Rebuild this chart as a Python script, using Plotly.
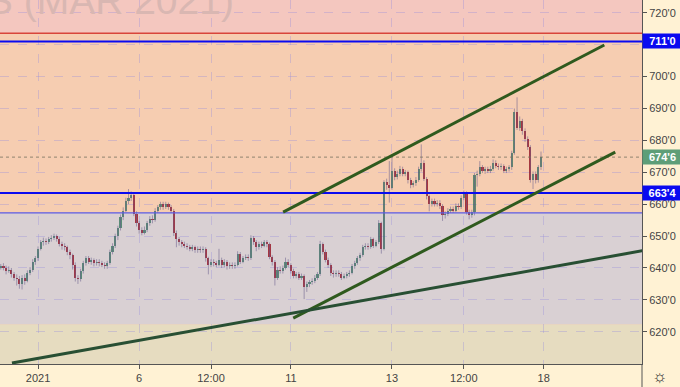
import plotly.graph_objects as go

# ---------------- data (hourly bars, Dec 31 2020 -> Jan 15 2021) ----------------
opens = [640, 640.5, 640, 639, 639.5, 638, 637, 636.5, 635, 637,
         636, 638.5, 639.5, 642, 643, 646, 648, 648.5, 648, 649,
         649.5, 650, 649, 647.5, 647, 646.5, 645, 644, 641, 637,
         636.5, 639, 641.5, 643, 642, 642.5, 641.5, 642, 641.5, 641,
         640.5, 641.5, 645, 647, 650, 652.5, 656, 658, 661, 662,
         663, 657, 654, 652, 651, 652, 654, 655.5, 655, 658,
         659, 660, 659, 660, 659, 658, 651, 649, 648, 647.5,
         647, 646.5, 646, 646.5, 645.5, 646, 645.5, 646, 643, 641,
         642, 641.5, 641, 642.5, 641, 642, 640.5, 641, 640.5, 641,
         644.5, 642, 643, 643.5, 643, 649.5, 648, 646.5, 647.5, 647,
         648, 647.5, 643.5, 642, 637, 639.5, 639, 640, 642, 641,
         639, 637.5, 638, 637, 637.5, 634, 635, 635.5, 636, 637,
         638, 647.5, 645, 642.5, 641, 638.5, 638, 638.5, 638, 637,
         637.5, 638, 638.5, 640.5, 641.5, 643, 644, 646.5, 647, 646.5,
         649, 647, 648, 654, 646, 667, 666, 665, 670.5, 668.5,
         669.5, 671, 669.5, 670, 667.5, 666, 666.5, 667.5, 671, 673,
         668, 662.5, 660, 661, 660, 660.5, 659.5, 656.5, 657, 658,
         658.5, 658, 659.5, 659, 662, 663.5, 657.5, 656.5, 657.5, 669,
         669.5, 671.5, 670.5, 671, 670.5, 671, 673, 672, 671.5, 672,
         670.5, 671, 671.5, 676, 689, 684, 686, 683, 680.5, 678,
         667.5, 669.5, 667.5, 671.5]
closes = [640.5, 640, 639, 639.5, 638, 637, 636.5, 635, 637, 636,
          638.5, 639.5, 642, 643, 646, 648, 648.5, 648, 649, 649.5,
          650, 649, 647.5, 647, 646.5, 645, 644, 641, 637, 636.5,
          639, 641.5, 643, 642, 642.5, 641.5, 642, 641.5, 641, 640.5,
          641.5, 645, 647, 650, 652.5, 656, 658, 661, 662, 663,
          657, 654, 652, 651, 652, 654, 655.5, 655, 658, 659,
          660, 659, 660, 659, 658, 651, 649, 648, 647.5, 647,
          646.5, 646, 646.5, 645.5, 646, 645.5, 646, 643, 641, 642,
          641.5, 641, 642.5, 641, 642, 640.5, 641, 640.5, 641, 644.5,
          642, 643, 643.5, 643, 649.5, 648, 646.5, 647.5, 647, 648,
          647.5, 643.5, 642, 637, 639.5, 639, 640, 642, 641, 639,
          637.5, 638, 637, 637.5, 634, 635, 635.5, 636, 637, 638,
          647.5, 645, 642.5, 641, 638.5, 638, 638.5, 638, 637, 637.5,
          638, 638.5, 640.5, 641.5, 643, 644, 646.5, 647, 646.5, 649,
          647, 648, 654, 646, 667, 666, 665, 670.5, 668.5, 669.5,
          671, 669.5, 670, 667.5, 666, 666.5, 667.5, 671, 673, 668,
          662.5, 660, 661, 660, 660.5, 659.5, 656.5, 657, 658, 658.5,
          658, 659.5, 659, 662, 663.5, 657.5, 656.5, 657.5, 669, 669.5,
          671.5, 670.5, 671, 670.5, 671, 673, 672, 671.5, 672, 670.5,
          671, 671.5, 676, 689, 684, 686, 683, 680.5, 678, 667.5,
          669.5, 667.5, 671.5, 674.75]
highs = [641.25, 641.5, 640.75, 640.5, 640, 638.75, 638, 637.5, 637.75, 638,
         639.25, 640.25, 642.75, 643.75, 646.75, 648.75, 649.5, 649.25, 649.75, 650.25,
         650.75, 650.5, 649.75, 648.25, 647.75, 647, 645.75, 644.5, 641.75, 637.75,
         639.75, 642.25, 643.75, 643.75, 643.25, 643, 642.75, 642.75, 642.25, 641.75,
         642.25, 645.75, 647.75, 650.75, 653.25, 656.75, 659, 662, 664.75, 664,
         663.5, 657.75, 654.75, 652.75, 653, 654.75, 656.25, 656.5, 658.75, 659.75,
         660.75, 660.75, 660.75, 660.5, 659.75, 658.5, 651.75, 649.75, 648.75, 648.25,
         647.75, 647.25, 647.25, 647, 646.75, 646.75, 646.75, 646.5, 643.5, 642.75,
         642.75, 642.25, 646, 643.25, 642.75, 642.5, 641.75, 641.75, 641.75, 645.25,
         645, 643.75, 644.25, 644.25, 650.25, 650, 648.75, 648.25, 648.25, 648.75,
         648.75, 648, 644, 642.5, 640.25, 640.5, 640.75, 643.25, 642.75, 641.5,
         639.75, 638.75, 638.75, 638.25, 638, 635.75, 636.25, 636.75, 637.75, 638.75,
         648.5, 648, 645.75, 643.25, 641.5, 639.25, 639.25, 639.25, 638.75, 638.25,
         638.75, 639.25, 641.25, 642.25, 643.75, 644.75, 647.25, 647.75, 647.75, 649.75,
         649.5, 648.75, 655, 654.5, 667.5, 668, 673.5, 675, 671.25, 670.5,
         672, 671.75, 670.75, 670.5, 668.25, 667.25, 668.5, 671.75, 678.75, 673.75,
         668.5, 663, 661.75, 661.75, 661.25, 661.25, 660, 657.75, 658.75, 659.25,
         659.25, 660.25, 660.25, 662.75, 664.25, 664, 658.25, 658.25, 669.75, 670.5,
         673.5, 672.25, 671.75, 671.75, 672, 674, 673.75, 672.75, 672.75, 672.5,
         671.75, 672.25, 676.75, 690, 693.5, 687.5, 686.75, 683.75, 681.25, 678.5,
         670.25, 670.25, 672.25, 676.5]
lows = [639.5, 639.25, 638, 638.5, 637, 636, 634.5, 633.5, 633.25, 634.75,
        635.5, 637.75, 638.75, 641, 642.25, 645.5, 647, 647.25, 647.5, 648.25,
        648.75, 648.25, 646.75, 645.75, 645.5, 644, 642.75, 639.5, 635.75, 635,
        635.75, 638.25, 640.75, 641.25, 641, 640.5, 640.75, 640.5, 640.25, 639.75,
        639.75, 641, 644.25, 646.25, 648.75, 651.75, 655, 657.5, 660, 661,
        656.25, 653, 650.75, 650.25, 650.5, 651.25, 653.25, 654, 654.5, 657.25,
        658.25, 658.25, 658.5, 658.25, 657.25, 650, 646.5, 647, 646.5, 646.25,
        645.75, 645.25, 645.25, 644.75, 644.75, 644.75, 644.75, 642, 638, 640.25,
        640.5, 640.25, 640.5, 640, 640.25, 639.5, 639.75, 639.75, 639.75, 640.5,
        641.25, 641.5, 642.5, 642.25, 642.5, 647.25, 645.25, 645.75, 646.25, 646.5,
        646.5, 642.75, 640.75, 634.5, 636.25, 638.25, 638.25, 639.5, 640.25, 638.25,
        636.75, 636.75, 636.25, 636.25, 630.25, 632.5, 634, 634.75, 635.25, 636.25,
        637.5, 644.25, 641.75, 640, 637.5, 637, 637.25, 637.25, 636.25, 636.5,
        636.75, 637.25, 638, 639.75, 641, 642.25, 643.5, 645.75, 645.75, 646,
        646.25, 646.5, 647.5, 644.5, 645.5, 664.5, 660.5, 664.5, 667.5, 667.75,
        668.75, 668.75, 668.75, 666.5, 665, 665.25, 665.75, 667, 670.25, 667.25,
        661.5, 657.75, 659.25, 659.25, 659.25, 658.5, 654.75, 655.5, 656.25, 657.25,
        657.25, 657.5, 658.25, 658.5, 661.25, 656.75, 655.25, 655.75, 656.5, 665.5,
        668.75, 669.75, 669.5, 669.75, 669.75, 670.5, 671.25, 670.75, 670.75, 669.75,
        669.75, 670.25, 670.75, 675.5, 683.25, 683, 681.75, 679.5, 677, 666.75,
        664.75, 666.5, 666.75, 670.75]

# axis tick labels
x_tick_bars = [14, 52, 79, 109, 147, 174, 204]
x_tick_text = ["2021", "6", "12:00", "11", "13", "12:00", "18"]
y_tick_vals = [620, 630, 640, 650, 660, 670, 680, 690, 700, 710, 720]
y_tick_text = ["620'0", "630'0", "640'0", "650'0", "660'0", "670'0", "680'0",
               "690'0", "700'0", "", "720'0"]

# drawing levels / trend lines (bar index, price)
level_top = 711.0
level_mid = 663.5
last_price = 674.75
zone_edges = [724.0, 713.6, 657.25, 622.3, 609.0]
zone_colors = ["#F4C7BF", "#F6CDB1", "#D9D0D3", "#E6DCC0"]
channel_upper = [(106.1, 657.5), (226.8, 709.9)]
channel_lower = [(109.9, 624.3), (230.9, 676.3)]
long_trend = [(4.2, 610.2), (262.0, 648.5)]

# ---------------- figure ----------------
n = len(closes)
idx = list(range(n))
X_RANGE = [-0.29, 240.95]
Y_RANGE = [609.9, 724.0]

fig = go.Figure()

# wicks
wx, wy = [], []
for i in idx:
    wx += [i, i, None]
    wy += [lows[i], highs[i], None]
fig.add_trace(go.Scatter(x=wx, y=wy, mode="lines",
                         line=dict(color="rgba(105,95,140,0.55)", width=1),
                         hoverinfo="skip", showlegend=False))

# bodies
base = [min(o, c) for o, c in zip(opens, closes)]
height = [abs(c - o) for o, c in zip(opens, closes)]
cols = ["rgba(35,110,80,0.70)" if c >= o else "rgba(150,10,25,0.78)"
        for o, c in zip(opens, closes)]
fig.add_trace(go.Bar(x=idx, y=height, base=base, width=0.8,
                     marker=dict(color=cols, line=dict(width=0)),
                     showlegend=False, hoverinfo="skip"))

shapes = []
# background zones
for k in range(len(zone_colors)):
    shapes.append(dict(type="rect", xref="paper", yref="y", x0=0, x1=1,
                       y0=zone_edges[k + 1], y1=zone_edges[k],
                       fillcolor=zone_colors[k], line=dict(width=0), layer="below"))
# zone border lines
shapes.append(dict(type="line", xref="paper", yref="y", x0=0, x1=1,
                   y0=zone_edges[1], y1=zone_edges[1],
                   line=dict(color="#D8453A", width=1.5)))
shapes.append(dict(type="line", xref="paper", yref="y", x0=0, x1=1,
                   y0=zone_edges[2], y1=zone_edges[2],
                   line=dict(color="#5A5AE6", width=1.2)))
# blue levels
for lv in (level_top, level_mid):
    shapes.append(dict(type="line", xref="paper", yref="y", x0=0, x1=1,
                       y0=lv, y1=lv, line=dict(color="#0A0AF0", width=2)))
# last price dotted line
shapes.append(dict(type="line", xref="paper", yref="y", x0=0, x1=1,
                   y0=last_price, y1=last_price,
                   line=dict(color="rgba(120,115,95,0.8)", width=1, dash="dot")))
# trend lines
for pts, col in ((channel_upper, "#2F5A1E"), (channel_lower, "#2F5A1E"),
                 (long_trend, "#284F33")):
    shapes.append(dict(type="line", xref="x", yref="y",
                       x0=pts[0][0], y0=pts[0][1], x1=pts[1][0], y1=pts[1][1],
                       line=dict(color=col, width=3)))
# right axis line extension into bottom strip
shapes.append(dict(type="line", xref="paper", yref="paper", x0=1, x1=1,
                   y0=-0.07, y1=0, line=dict(color="#555555", width=1)))

annotations = []
# watermark
annotations.append(dict(text="CORN FUTURES (MAR 2021)", xref="paper", yref="paper",
                        x=236 / 641.7, y=1 - 1 / 364, xanchor="right", yanchor="middle",
                        showarrow=False,
                        font=dict(size=39, color="#D9B7B2", family="Liberation Sans")))
# price label boxes
for lv, txt, bg in ((level_top, "711'0", "#0A0AF0"),
                    (last_price, "674'6", "#5E9E78"),
                    (level_mid, "663'4", "#0A0AF0")):
    annotations.append(dict(text="<b>" + txt + "</b>", xref="paper", yref="y",
                            x=1, y=lv, xanchor="left", yanchor="middle",
                            showarrow=False, bgcolor=bg, width=37, height=12,
                            borderpad=1, align="center",
                            font=dict(size=11, color="white", family="Liberation Sans")))
# settings icon
annotations.append(dict(text="☼", xref="paper", yref="paper", x=660 / 641.7,
                        y=-12 / 364, xanchor="center", yanchor="middle",
                        showarrow=False, font=dict(size=17, color="#333333")))

fig.update_layout(
    width=680, height=387,
    margin=dict(l=0, r=38, t=0, b=23, pad=0),
    paper_bgcolor="#FFF2D4",
    plot_bgcolor="#F6CDB1",
    bargap=0, barmode="overlay",
    shapes=shapes, annotations=annotations,
    showlegend=False,
    font=dict(family="Liberation Sans", size=11, color="#444444"),
    xaxis=dict(range=X_RANGE, tickvals=x_tick_bars, ticktext=x_tick_text,
               showgrid=True, gridcolor="rgba(150,140,220,0.35)", griddash="dash",
               gridwidth=1, zeroline=False, showline=True, linecolor="#555555",
               ticks="outside", ticklen=4, tickcolor="#555555",
               tickfont=dict(size=11, color="#444444"), fixedrange=True),
    yaxis=dict(range=Y_RANGE, side="right", tickvals=y_tick_vals, ticktext=y_tick_text,
               showgrid=True, gridcolor="rgba(150,140,220,0.35)", griddash="dash",
               gridwidth=1, zeroline=False, showline=True, linecolor="#555555",
               ticks="outside", ticklen=4, tickcolor="#555555",
               tickfont=dict(size=11, color="#444444"), fixedrange=True),
)

fig.write_html("out.html")
